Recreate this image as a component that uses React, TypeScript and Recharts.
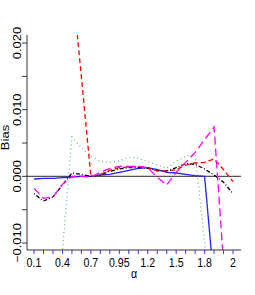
import React from 'react';
import { LineChart, Line, XAxis, YAxis, ReferenceLine } from 'recharts';

const alphaLabels = ['0.1','0.2','0.3','0.4','0.5','0.6','0.7','0.8','0.9','0.95','1','1.1','1.2','1.3','1.4','1.5','1.6','1.7','1.8','1.9','1.95','2'];

const blackSeries = [-0.0026,-0.0037,-0.0031,-0.0013,0.0005,0.0003,0.0,0.0002,0.00075,0.0011,0.0013,0.0013,0.0012,0.0009,0.0008,0.0013,0.0019,0.0018,0.0011,0.0002,-0.0009,-0.0026];
const redSeries = [0.07,0.06,0.05,0.045,0.0296,0.0149,0.0,0.0003,0.0009,0.0013,0.0014,0.0015,0.0013,0.0008,0.0008,0.001,0.0017,0.002,0.0021,0.0026,0.001,-0.0008];
const greenSeries = [-0.04,-0.03,-0.02,-0.0112,0.0059,0.0043,0.003,0.0023,0.0021,0.0023,0.0029,0.0027,0.0022,0.0017,0.0012,0.0023,0.003,0.0033,-0.01,-0.025,-0.03,-0.035];
const blueSeries = [-0.0004,-0.0003,-0.0003,-0.0002,-0.0001,0.0,0.0,0.0002,0.0003,0.0006,0.0009,0.0012,0.0013,0.001,0.0006,0.0005,0.0003,0.0001,0.0,-0.016,-0.03,-0.03];
const magentaSeries = [-0.0018,-0.0033,-0.0031,-0.0012,0.0,0.0,-0.0001,0.0006,0.0012,0.0015,0.0015,0.0015,0.0013,-0.00015,-0.0013,0.0006,0.0021,0.0036,0.0055,0.0074,-0.013,-0.03];

const yTicks = [-0.01, -0.005, 0, 0.005, 0.01, 0.015, 0.02];
const yLabels: Record<string, string> = { '-0.01': '\u22120.010', '0': '0.000', '0.01': '0.010', '0.02': '0.020' };

const data = alphaLabels.map((a, i) => ({
  idx: i,
  alpha: a,
  black: blackSeries[i],
  red: redSeries[i],
  green: greenSeries[i],
  blue: blueSeries[i],
  magenta: magentaSeries[i],
}));
const xTicks = alphaLabels.map((_, i) => i);

const FONT = '"Liberation Sans", Arial, Helvetica, sans-serif';
const SX = 0.82;

const XTick = (props: any) => {
  const { x, y, payload } = props;
  const i = payload.value as number;
  if (i % 3 !== 0) return null;
  return (
    <g transform={`translate(${x},${y + 11}) scale(${SX},1)`}>
      <text x={0} y={0} textAnchor="middle" fontSize={13} fontFamily={FONT} fill="#000">
        {alphaLabels[i]}
      </text>
    </g>
  );
};

const YTick = (props: any) => {
  const { x, y, payload } = props;
  const key = String(Math.round(payload.value * 1000) / 1000);
  const label = yLabels[key];
  if (!label) return null;
  return (
    <g transform={`translate(${x + 0.5},${y}) scale(${SX},1) rotate(-90)`}>
      <text x={0} y={0} textAnchor="middle" fontSize={13} fontFamily={FONT} fill="#000">
        {label}
      </text>
    </g>
  );
};

const biasLabel = () => (
  <g transform={`translate(8.5,137.5) scale(${SX},1) rotate(-90)`}>
    <text x={0} y={0} textAnchor="middle" fontSize={13} fontFamily={FONT} fill="#000">Bias</text>
  </g>
);

const alphaLabel = () => (
  <g transform={`translate(134,278) scale(${SX},1)`}>
    <text x={0} y={0} textAnchor="middle" fontSize={13} fontFamily={FONT} fill="#000">α</text>
  </g>
);

export default function App() {
  return (
    <div style={{ position: 'absolute', left: 0, top: 0, width: 255, height: 295, background: '#fff' }}>
      <LineChart width={255} height={295} data={data} margin={{ top: 35, right: 14, left: 0, bottom: 0 }}>
        <XAxis
          dataKey="idx"
          type="number"
          domain={[-0.74, 21.84]}
          allowDataOverflow
          ticks={xTicks}
          interval={0}
          height={45}
          tickSize={4}
          axisLine={{ stroke: '#333', strokeWidth: 1 }}
          tickLine={{ stroke: '#3333ff', strokeWidth: 1 }}
          tick={<XTick />}
          label={alphaLabel}
        />
        <XAxis
          xAxisId="top"
          dataKey="idx"
          type="number"
          orientation="top"
          domain={[-0.74, 21.84]}
          allowDataOverflow
          height={0}
          tick={false}
          tickLine={false}
          axisLine={{ stroke: '#333', strokeWidth: 1 }}
        />
        <YAxis
          type="number"
          domain={[-0.01105, 0.0212]}
          allowDataOverflow
          ticks={yTicks}
          interval={0}
          width={27}
          tickSize={5}
          axisLine={{ stroke: '#333', strokeWidth: 1 }}
          tickLine={{ stroke: '#333', strokeWidth: 1 }}
          tick={<YTick />}
          label={biasLabel}
        />
        <YAxis
          yAxisId="right"
          type="number"
          orientation="right"
          domain={[-0.01105, 0.0212]}
          allowDataOverflow
          width={0}
          tick={false}
          tickLine={false}
          axisLine={{ stroke: '#333', strokeWidth: 1 }}
        />
        <ReferenceLine y={0} stroke="#555" strokeWidth={1.2} />
        <Line type="linear" dataKey="green" stroke="#66bb66" strokeWidth={1.3} strokeDasharray="1 3" dot={false} isAnimationActive={false} />
        <Line type="linear" dataKey="blue" stroke="#2222ff" strokeWidth={1.3} dot={false} isAnimationActive={false} />
        <Line type="linear" dataKey="black" stroke="#000" strokeWidth={1.3} strokeDasharray="1 2 4 2" dot={false} isAnimationActive={false} />
        <Line type="linear" dataKey="red" stroke="#ff0000" strokeWidth={1.3} strokeDasharray="5 3" dot={false} isAnimationActive={false} />
        <Line type="linear" dataKey="magenta" stroke="#ff00ff" strokeWidth={1.3} strokeDasharray="8 4" dot={false} isAnimationActive={false} />
      </LineChart>
    </div>
  );
}
